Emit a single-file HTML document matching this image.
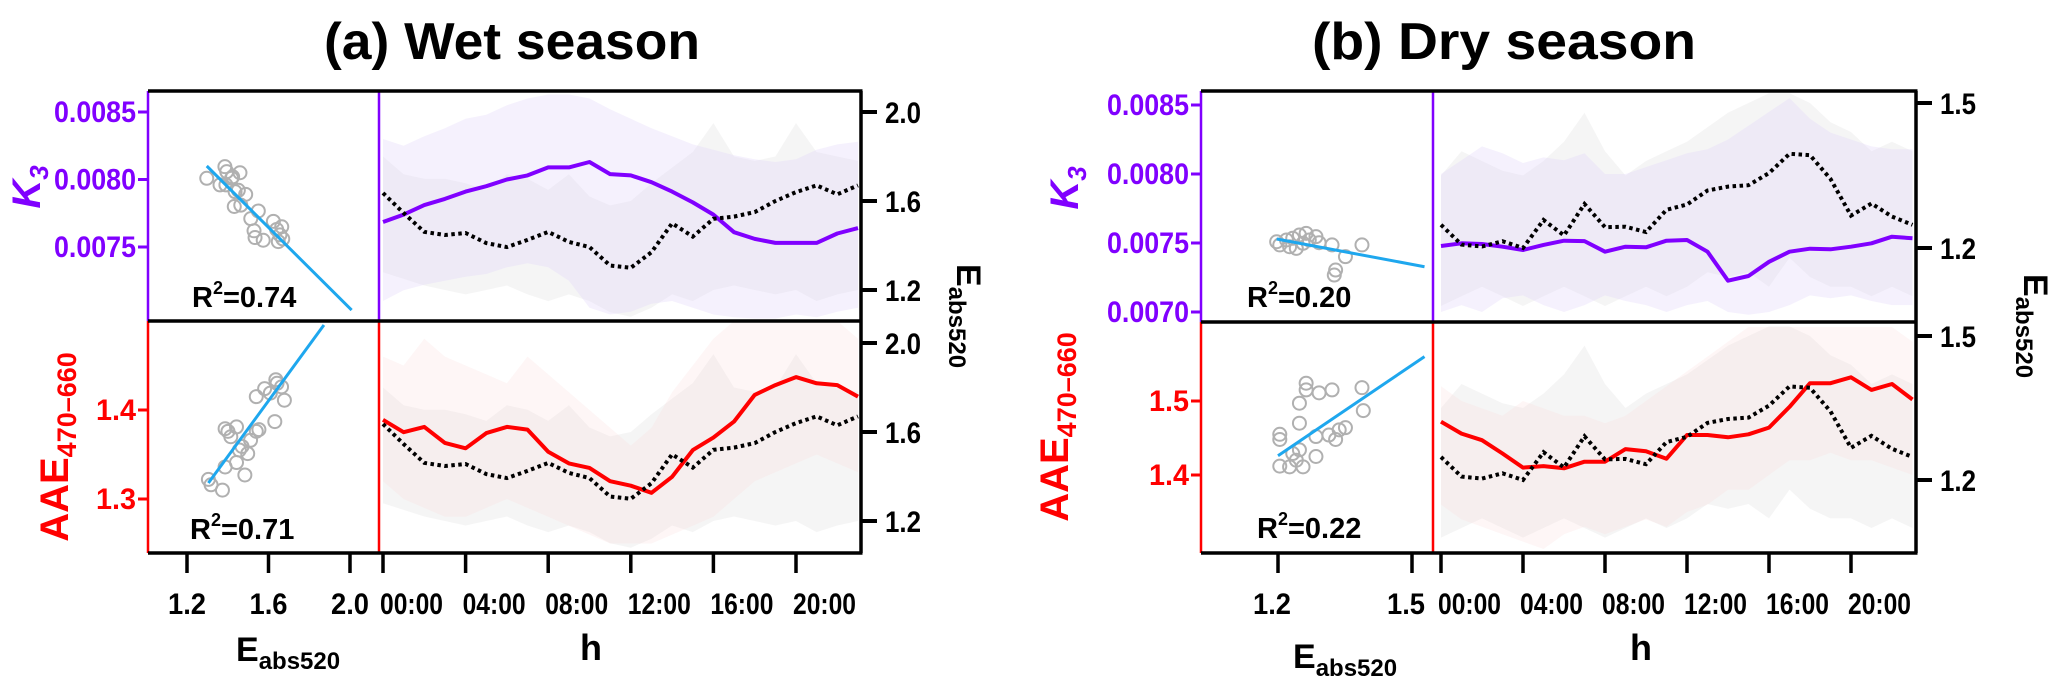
<!DOCTYPE html>
<html><head><meta charset="utf-8"><style>
html,body{margin:0;padding:0;background:#fff;}
svg{display:block;font-family:"Liberation Sans Narrow","Liberation Sans",sans-serif;font-weight:bold;}
</style></head><body>
<svg id="chart" width="2067" height="694" viewBox="0 0 2067 694" xmlns="http://www.w3.org/2000/svg">
<text x="324" y="59" font-size="52" textLength="376" lengthAdjust="spacingAndGlyphs">(a)  Wet season</text>
<text x="1312" y="59" font-size="52" textLength="384" lengthAdjust="spacingAndGlyphs">(b)  Dry season</text>
<g id="layer"></g>
</svg>
<script>
const hours=[0,1,2,3,4,5,6,7,8,9,10,11,12,13,14,15,16,17,18,19,20,21,22,23];
const hourTickVals=[0,4,8,12,16,20];
const hourTickLabels=["00:00","04:00","08:00","12:00","16:00","20:00"];
// Wet season
const k3Wet=[0.007685,0.00774,0.00781,0.007856,0.00791,0.00795,0.0080,0.00803,0.00809,0.00809,0.00813,0.00804,0.00803,0.00798,0.00791,0.00783,0.00774,0.00761,0.00756,0.00753,0.00753,0.00753,0.0076,0.00764];
const eWet=[1.636,1.546,1.461,1.447,1.456,1.411,1.393,1.425,1.461,1.416,1.393,1.31,1.30,1.37,1.50,1.44,1.52,1.53,1.55,1.60,1.64,1.67,1.63,1.67];
const aaeWet=[1.389,1.375,1.381,1.363,1.357,1.374,1.381,1.378,1.353,1.340,1.335,1.320,1.315,1.307,1.325,1.355,1.369,1.387,1.417,1.428,1.437,1.430,1.428,1.415];
const k3UpWet=[0.00830,0.00825,0.00832,0.00838,0.00845,0.00848,0.00855,0.00860,0.00863,0.00863,0.00860,0.00852,0.00845,0.00838,0.00832,0.00826,0.00822,0.00818,0.00815,0.00813,0.00815,0.00822,0.00826,0.00828];
const k3LoWet=[0.00710,0.00718,0.00722,0.00725,0.00728,0.00730,0.00735,0.00738,0.00735,0.00725,0.00705,0.00700,0.00702,0.00708,0.00710,0.00705,0.00700,0.00698,0.00697,0.00697,0.00700,0.00698,0.00702,0.00705];
const eUpWet=[1.80,1.72,1.70,1.70,1.68,1.65,1.72,1.70,1.65,1.72,1.62,1.58,1.60,1.68,1.75,1.82,1.95,1.80,1.78,1.80,1.95,1.82,1.80,1.78];
const eLoWet=[1.28,1.25,1.22,1.20,1.18,1.20,1.22,1.18,1.15,1.18,1.15,1.10,1.08,1.12,1.18,1.15,1.20,1.22,1.20,1.18,1.20,1.15,1.18,1.20];
const aaeUpWet=[1.46,1.45,1.48,1.46,1.45,1.44,1.43,1.46,1.44,1.42,1.40,1.38,1.36,1.38,1.42,1.45,1.48,1.50,1.50,1.50,1.50,1.50,1.50,1.48];
const aaeLoWet=[1.32,1.30,1.29,1.28,1.28,1.29,1.30,1.29,1.28,1.27,1.26,1.25,1.25,1.25,1.26,1.27,1.28,1.30,1.32,1.33,1.34,1.35,1.34,1.33];
const scatKE_Wet=[1.297,1.386,1.395,1.419,1.46,1.362,1.391,1.424,1.436,1.452,1.488,1.432,1.464,1.513,1.55,1.529,1.534,1.574,1.624,1.665,1.64,1.648,1.67,1.656];
const scatK_Wet=[0.008009,0.008095,0.008058,0.008009,0.00805,0.00796,0.00796,0.00802,0.00791,0.00792,0.00789,0.0078,0.00781,0.00771,0.007767,0.00762,0.00757,0.00755,0.00769,0.00765,0.00763,0.00754,0.00756,0.00759];
const scatAE_Wet=[1.305,1.318,1.374,1.387,1.401,1.415,1.443,1.387,1.443,1.457,1.470,1.512,1.498,1.540,1.553,1.484,1.631,1.540,1.581,1.636,1.664,1.678,1.642,1.609];
const scatA_Wet=[1.322,1.316,1.310,1.379,1.376,1.370,1.381,1.336,1.341,1.355,1.359,1.366,1.351,1.376,1.378,1.327,1.387,1.415,1.424,1.434,1.426,1.411,1.430,1.419];
const fitK_Wet=[[1.297,0.0081],[2.008,0.007033]];
const fitA_Wet=[[1.305,1.318],[1.872,1.4955]];
// Dry season
const k3Dry=[0.007478,0.007498,0.007493,0.007473,0.007449,0.007486,0.007517,0.007514,0.007437,0.007473,0.007469,0.007517,0.007522,0.007437,0.007227,0.007261,0.007364,0.007437,0.007459,0.007454,0.007473,0.007498,0.007546,0.007534];
const eDry=[1.248,1.207,1.203,1.214,1.2,1.258,1.226,1.291,1.243,1.244,1.233,1.279,1.29,1.319,1.327,1.33,1.355,1.395,1.392,1.343,1.267,1.292,1.265,1.248];
const aaeDry=[1.472,1.456,1.447,1.429,1.410,1.412,1.409,1.418,1.418,1.435,1.432,1.422,1.454,1.454,1.451,1.455,1.464,1.492,1.524,1.524,1.532,1.515,1.523,1.502];
const k3UpDry=[0.00800,0.00810,0.00820,0.00815,0.00808,0.00812,0.00810,0.00815,0.00800,0.00800,0.00805,0.00810,0.00815,0.00818,0.00825,0.00835,0.00845,0.00855,0.00840,0.00830,0.00825,0.00820,0.00818,0.00818];
const k3LoDry=[0.00700,0.00705,0.00700,0.00710,0.00712,0.00705,0.00700,0.00705,0.00712,0.00708,0.00705,0.00700,0.00705,0.00708,0.00700,0.00698,0.00700,0.00705,0.00712,0.00710,0.00712,0.00708,0.00705,0.00705];
const eUpDry=[1.35,1.40,1.38,1.36,1.35,1.38,1.42,1.48,1.40,1.35,1.38,1.40,1.42,1.45,1.48,1.50,1.52,1.52,1.50,1.46,1.44,1.40,1.42,1.40];
const eLoDry=[1.08,1.10,1.12,1.10,1.08,1.10,1.12,1.10,1.08,1.10,1.12,1.10,1.12,1.15,1.14,1.15,1.12,1.18,1.14,1.12,1.12,1.10,1.12,1.10];
const aaeUpDry=[1.52,1.50,1.49,1.48,1.50,1.49,1.48,1.48,1.47,1.48,1.50,1.52,1.54,1.56,1.58,1.60,1.60,1.60,1.60,1.60,1.60,1.60,1.60,1.58];
const aaeLoDry=[1.36,1.34,1.33,1.32,1.31,1.30,1.32,1.33,1.32,1.33,1.34,1.33,1.35,1.36,1.38,1.38,1.40,1.42,1.42,1.43,1.42,1.42,1.41,1.40];
const scatKE_Dry=[1.197,1.204,1.219,1.233,1.248,1.263,1.241,1.270,1.285,1.292,1.321,1.351,1.329,1.326,1.388,1.256,1.226];
const scatK_Dry=[0.007509,0.007486,0.007522,0.007534,0.007558,0.007570,0.007461,0.007522,0.007546,0.007502,0.007486,0.007401,0.007304,0.007268,0.007486,0.007498,0.007473];
const scatAE_Dry=[1.204,1.204,1.204,1.226,1.233,1.248,1.241,1.256,1.263,1.263,1.248,1.248,1.285,1.292,1.321,1.285,1.314,1.329,1.351,1.388,1.391,1.337];
const scatA_Dry=[1.412,1.455,1.448,1.411,1.429,1.434,1.420,1.411,1.524,1.515,1.497,1.470,1.425,1.511,1.515,1.452,1.454,1.448,1.464,1.518,1.487,1.461];
const fitK_Dry=[[1.197,0.007529],[1.528,0.007328]];
const fitA_Dry=[[1.2,1.426],[1.528,1.560]];
const wetK3Ticks=[0.0085,0.0080,0.0075];
const wetAAETicks=[1.4,1.3];
const wetETicksR=[2.0,1.6,1.2];
const wetScatTicks=[1.2,1.6,2.0];
const dryK3Ticks=[0.0085,0.0080,0.0075,0.0070];
const dryAAETicks=[1.5,1.4];
const dryETicksR=[1.5,1.2];
const dryScatTicks=[1.2,1.5];

const NS="http://www.w3.org/2000/svg";
const layer=document.getElementById('layer');
function mk(tag,attrs,parent){const e=document.createElementNS(NS,tag);for(const k in attrs)e.setAttribute(k,attrs[k]);(parent||layer).appendChild(e);return e;}
function lin(v0,p0,v1,p1){return v=>p0+(v-v0)*(p1-p0)/(v1-v0);}
function pathOf(xs,ys,fx,fy){return xs.map((x,i)=>(i?'L':'M')+fx(x).toFixed(1)+','+fy(ys[i]).toFixed(1)).join('');}
function bandOf(xs,up,lo,fx,fy){let d=xs.map((x,i)=>(i?'L':'M')+fx(x).toFixed(1)+','+fy(up[i]).toFixed(1)).join('');for(let i=xs.length-1;i>=0;i--)d+='L'+fx(xs[i]).toFixed(1)+','+fy(lo[i]).toFixed(1);return d+'Z';}
const PUR="#8000ff",RED="#ff0000",BLUE="#1ea7ee";

function drawPanel(c,id){
  const g=mk('g',{});
  
  
  const fh=lin(0,c.h0,20,c.h20);
  const fs=lin(c.sv0,c.sp0,c.sv1,c.sp1);
  const fk=lin(c.kv0,c.kp0,c.kv1,c.kp1);
  const fa=lin(c.av0,c.ap0,c.av1,c.ap1);
  const feT=lin(c.ev0,c.etp0,c.ev1,c.etp1);
  const feB=lin(c.ev0,c.ebp0,c.ev1,c.ebp1);
  const defs=mk('defs',{},g);
  const cp1=mk('clipPath',{id:id+'c1'},defs);mk('rect',{x:c.xd,y:c.yT,width:c.x1-c.xd,height:c.yM-c.yT},cp1);
  const cp2=mk('clipPath',{id:id+'c2'},defs);mk('rect',{x:c.xd,y:c.yM,width:c.x1-c.xd,height:c.yB-c.yM},cp2);
  const cp3=mk('clipPath',{id:id+'c3'},defs);mk('rect',{x:c.x0,y:c.yT,width:c.xd-c.x0,height:c.yM-c.yT},cp3);
  const cp4=mk('clipPath',{id:id+'c4'},defs);mk('rect',{x:c.x0,y:c.yM,width:c.xd-c.x0,height:c.yB-c.yM},cp4);
  const gt=mk('g',{'clip-path':'url(#'+id+'c1)'},g);
  const gb=mk('g',{'clip-path':'url(#'+id+'c2)'},g);
  // bands
  let b=mk('path',{d:bandOf(hours,c.eUp,c.eLo,fh,feT),fill:'#e6e6e6','fill-opacity':0.4},gt);
  
  
  b=mk('path',{d:bandOf(hours,c.kUp,c.kLo,fh,fk),fill:'#e2d8f8','fill-opacity':0.35},gt);
  
  
  b=mk('path',{d:bandOf(hours,c.eUp,c.eLo,fh,feB),fill:'#e6e6e6','fill-opacity':0.4},gb);
  
  
  b=mk('path',{d:bandOf(hours,c.aUp,c.aLo,fh,fa),fill:'#fbdcdc','fill-opacity':0.25},gb);
  
  
  // lines
  let l=mk('path',{d:pathOf(hours,c.k,fh,fk),fill:'none',stroke:PUR,'stroke-width':4,'stroke-linejoin':'round'},gt);
  
  
  l=mk('path',{d:pathOf(hours,c.e,fh,feT),fill:'none',stroke:'#000','stroke-width':4,'stroke-dasharray':'3.5 3.5'},gt);
  
  
  l=mk('path',{d:pathOf(hours,c.a,fh,fa),fill:'none',stroke:RED,'stroke-width':4,'stroke-linejoin':'round'},gb);
  
  
  l=mk('path',{d:pathOf(hours,c.e,fh,feB),fill:'none',stroke:'#000','stroke-width':4,'stroke-dasharray':'3.5 3.5'},gb);
  
  
  // scatter
  const st=mk('g',{'clip-path':'url(#'+id+'c3)'},g);
  const sb=mk('g',{'clip-path':'url(#'+id+'c4)'},g);
  c.sKE.forEach((v,i)=>{const p=mk('circle',{cx:fs(v),cy:fk(c.sK[i]),r:6.5,fill:'none',stroke:'#b0b0b0','stroke-width':2},st);
    
    });
  c.sAE.forEach((v,i)=>{const p=mk('circle',{cx:fs(v),cy:fa(c.sA[i]),r:6.5,fill:'none',stroke:'#b0b0b0','stroke-width':2},sb);
    
    });
  let f=mk('line',{x1:fs(c.fitK[0][0]),y1:fk(c.fitK[0][1]),x2:fs(c.fitK[1][0]),y2:fk(c.fitK[1][1]),stroke:BLUE,'stroke-width':3},st);
  
  
  f=mk('line',{x1:fs(c.fitA[0][0]),y1:fa(c.fitA[0][1]),x2:fs(c.fitA[1][0]),y2:fa(c.fitA[1][1]),stroke:BLUE,'stroke-width':3},sb);
  
  
  // R2
  let t=mk('text',{x:c.r1x,y:c.r1y,'font-size':29},g);t.textContent='R';
  let sup=mk('tspan',{dy:-13,'font-size':18},t);sup.textContent='2';
  let rest=mk('tspan',{dy:13},t);rest.textContent='='+c.r1;
  
  
  t=mk('text',{x:c.r2x,y:c.r2y,'font-size':29},g);t.textContent='R';
  sup=mk('tspan',{dy:-13,'font-size':18},t);sup.textContent='2';
  rest=mk('tspan',{dy:13},t);rest.textContent='='+c.r2;
  
  
  // frame
  const ax=(x1,y1,x2,y2,col,w,name)=>{const e=mk('line',{x1,y1,x2,y2,stroke:col,'stroke-width':w},g);
    
    return e;};
  ax(c.x0,c.yT,c.x0,c.yM,PUR,2.5,'k3-left-axis');
  ax(c.xd,c.yT,c.xd,c.yM,PUR,2.5,'k3-divider');
  ax(c.x0,c.yM,c.x0,c.yB,RED,2.5,'aae-left-axis');
  ax(c.xd,c.yM,c.xd,c.yB,RED,2.5,'aae-divider');
  ax(c.x0,c.yT,c.x1+1.5,c.yT,'#000',3.5,'top-border');
  ax(c.x0,c.yM,c.x1+1.5,c.yM,'#000',3.5,'middle-border');
  ax(c.x0,c.yB,c.x1+1.5,c.yB,'#000',3.5,'bottom-axis');
  ax(c.x1,c.yT,c.x1,c.yB,'#000',3.5,'right-axis');
  // left ticks
  c.kTicks.forEach(v=>{ax(c.x0-10,fk(v),c.x0,fk(v),PUR,3,'k3-tick');
    const e=mk('text',{x:c.x0-12,y:fk(v)+10,'font-size':30,fill:PUR,'text-anchor':'end',textLength:82,lengthAdjust:'spacingAndGlyphs'},g);e.textContent=v.toFixed(4);
    
    });
  c.aTicks.forEach(v=>{ax(c.x0-10,fa(v),c.x0,fa(v),RED,3,'aae-tick');
    const e=mk('text',{x:c.x0-12,y:fa(v)+10,'font-size':30,fill:RED,'text-anchor':'end',textLength:40,lengthAdjust:'spacingAndGlyphs'},g);e.textContent=v.toFixed(1);
    
    });
  // right ticks
  [[feT,'top'],[feB,'bottom']].forEach(([fe,nm])=>{c.eTicks.forEach(v=>{ax(c.x1,fe(v),c.x1+16,fe(v),'#000',4,'e-abs-right-tick');
    const e=mk('text',{x:c.x1+24,y:fe(v)+11,'font-size':30,textLength:36,lengthAdjust:'spacingAndGlyphs'},g);e.textContent=v.toFixed(1);
    
    });});
  // bottom ticks
  c.sTicks.forEach(v=>{ax(fs(v),c.yB,fs(v),c.yB+20,'#000',3.5,'scatter-x-tick');
    const e=mk('text',{x:fs(v)+c.sLblDx-19,y:c.yB+61,'font-size':30,textLength:38,lengthAdjust:'spacingAndGlyphs'},g);e.textContent=v.toFixed(1);
    
    });
  hourTickVals.forEach((v,i)=>{ax(fh(v),c.yB,fh(v),c.yB+20,'#000',3.5,'hour-tick');
    const e=mk('text',{x:fh(v)-3,y:c.yB+61,'font-size':30,textLength:63,lengthAdjust:'spacingAndGlyphs'},g);e.textContent=hourTickLabels[i];
    
    });
  // axis titles
  t=mk('text',{x:c.eLx,y:c.eLy,'font-size':34},g);t.textContent='E';
  let s=mk('tspan',{dy:8,'font-size':24},t);s.textContent='abs520';
  
  
  t=mk('text',{x:c.hx,y:660,'font-size':36,'text-anchor':'middle'},g);t.textContent='h';
  
  
  t=mk('text',{transform:'translate('+c.reX+','+c.reY+') rotate(90)','font-size':34,'text-anchor':'middle'},g);t.textContent='E';
  s=mk('tspan',{dy:8,'font-size':24},t);s.textContent='abs520';
  
  
  t=mk('text',{transform:'translate('+c.kLx+','+c.kLy+') rotate(-90)','font-size':40,fill:PUR,'text-anchor':'middle','font-style':'italic','font-family':'Liberation Sans, sans-serif'},g);t.textContent='K';
  s=mk('tspan',{dy:8,'font-size':26},t);s.textContent='3';
  
  
  t=mk('text',{transform:'translate('+c.aLx+','+c.aLy+') rotate(-90)','font-size':40,fill:RED,'text-anchor':'middle','font-family':'Liberation Sans, sans-serif'},g);t.textContent='AAE';
  s=mk('tspan',{dy:8,'font-size':27},t);s.textContent='470–660';
  
  
}

drawPanel({x0:148,xd:379,x1:861,yT:91,yM:321,yB:553,h0:383,h20:796,
  sv0:1.2,sp0:187,sv1:2.0,sp1:350,kv0:0.0085,kp0:112,kv1:0.0075,kp1:247,
  av0:1.4,ap0:410,av1:1.3,ap1:499,ev0:2.0,etp0:112,ev1:1.2,etp1:290,ebp0:343,ebp1:521,
  k:k3Wet,e:eWet,a:aaeWet,kUp:k3UpWet,kLo:k3LoWet,eUp:eUpWet,eLo:eLoWet,aUp:aaeUpWet,aLo:aaeLoWet,
  sKE:scatKE_Wet,sK:scatK_Wet,sAE:scatAE_Wet,sA:scatA_Wet,fitK:fitK_Wet,fitA:fitA_Wet,
  r1:'0.74',r1x:192,r1y:307,r2:'0.71',r2x:190,r2y:539,
  kTicks:wetK3Ticks,aTicks:wetAAETicks,eTicks:wetETicksR,sTicks:wetScatTicks,sLblDx:0,
  eLx:236,eLy:661,hx:591,reX:957,reY:316,kLx:40,kLy:187,aLx:68,aLy:447},'wet');
drawPanel({x0:1201,xd:1433,x1:1916,yT:91,yM:322,yB:553,h0:1441,h20:1851,
  sv0:1.2,sp0:1278,sv1:1.5,sp1:1412,kv0:0.0085,kp0:105,kv1:0.0070,kp1:312,
  av0:1.5,ap0:401,av1:1.4,ap1:475,ev0:1.5,etp0:103,ev1:1.2,etp1:248,ebp0:336,ebp1:480,
  k:k3Dry,e:eDry,a:aaeDry,kUp:k3UpDry,kLo:k3LoDry,eUp:eUpDry,eLo:eLoDry,aUp:aaeUpDry,aLo:aaeLoDry,
  sKE:scatKE_Dry,sK:scatK_Dry,sAE:scatAE_Dry,sA:scatA_Dry,fitK:fitK_Dry,fitA:fitA_Dry,
  r1:'0.20',r1x:1247,r1y:307,r2:'0.22',r2x:1257,r2y:538,
  kTicks:dryK3Ticks,aTicks:dryAAETicks,eTicks:dryETicksR,sTicks:dryScatTicks,sLblDx:-6,
  eLx:1293,eLy:668,hx:1641,reX:2024,reY:326,kLx:1078,kLy:188,aLx:1068,aLy:427},'dry');
</script>
</body></html>
